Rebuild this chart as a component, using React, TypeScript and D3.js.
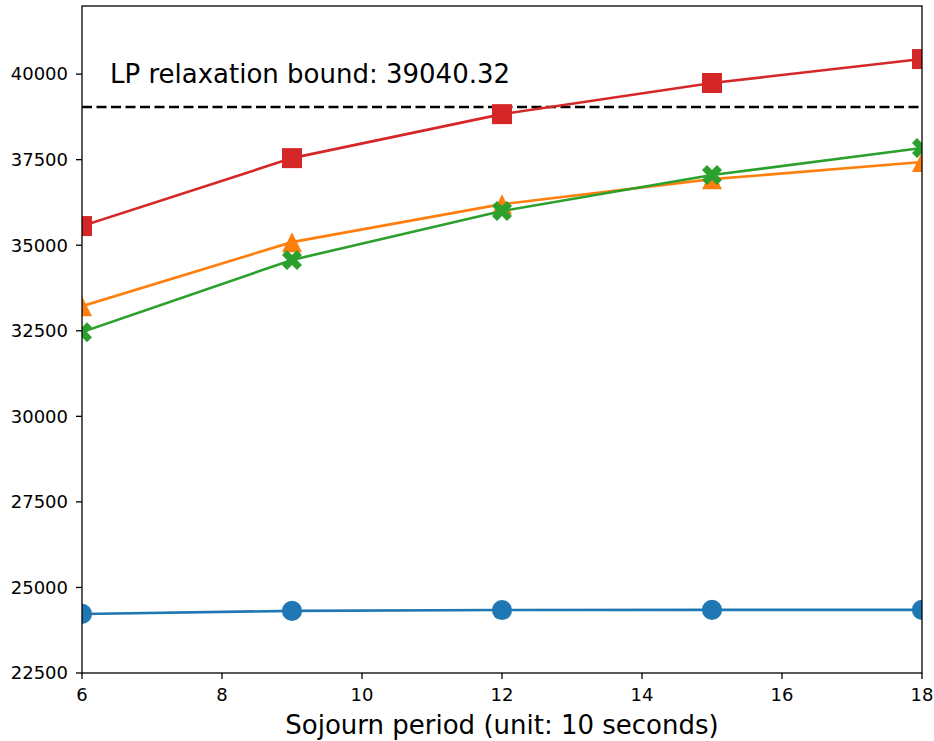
import React from "react";
import * as d3 from "d3";

// sojourn periods (unit: 10 seconds)
const periods = [6, 9, 12, 15, 18];
const circleSeries = [24225, 24315, 24340, 24345, 24345];
const triangleSeries = [33220, 35090, 36200, 36930, 37430];
const xSeries = [32460, 34570, 36000, 37050, 37840];
const squareSeries = [35560, 37545, 38830, 39740, 40440];
const lpBound = 39040.32;
const yTicks = [22500, 25000, 27500, 30000, 32500, 35000, 37500, 40000];
const xTicks = [6, 8, 10, 12, 14, 16, 18];

const W = 934;
const H = 741;
const margin = { top: 6, right: 12, bottom: 68, left: 82 };

// matplotlib-like "^" triangle: width == height
const mplTriangle = {
  draw(ctx: any, size: number) {
    const s = Math.sqrt(size) / 2;
    ctx.moveTo(0, -s);
    ctx.lineTo(s, s);
    ctx.lineTo(-s, s);
    ctx.closePath();
  },
};

const series = [
  { values: circleSeries, color: "#1f77b4", shape: d3.symbolCircle, size: 320, rotate: 0 },
  { values: triangleSeries, color: "#ff7f0e", shape: mplTriangle, size: 400, rotate: 0 },
  { values: xSeries, color: "#2ca02c", shape: d3.symbolCross, size: 250, rotate: 45 },
  { values: squareSeries, color: "#d62728", shape: d3.symbolSquare, size: 400, rotate: 0 },
];

export default function App() {
  const iw = W - margin.left - margin.right;
  const ih = H - margin.top - margin.bottom;
  const x = d3.scaleLinear().domain([6, 18]).range([0, iw]);
  const y = d3.scaleLinear().domain([22500, 41990]).range([ih, 0]);
  const line = d3
    .line<number>()
    .x((_, i) => x(periods[i]))
    .y((d) => y(d));
  const font = "'DejaVu Sans', sans-serif";

  return (
    <svg
      width={W}
      height={H}
      style={{ position: "absolute", left: 0, top: 0, background: "#fff" }}
      fontFamily={font}
    >
      <defs>
        <clipPath id="plotClip">
          <rect x={0} y={0} width={iw} height={ih} />
        </clipPath>
      </defs>
      <g transform={`translate(${margin.left},${margin.top})`}>
        <g clipPath="url(#plotClip)">
          <line
            x1={0}
            x2={iw}
            y1={y(lpBound)}
            y2={y(lpBound)}
            stroke="#000"
            strokeWidth={2.5}
            strokeDasharray="10,4.5"
          />
          {series.map((s, k) => (
            <g key={k}>
              <path d={line(s.values) || ""} fill="none" stroke={s.color} strokeWidth={2.6} />
              {s.values.map((v, i) => (
                <path
                  key={i}
                  d={d3.symbol().type(s.shape as any).size(s.size)() || ""}
                  transform={`translate(${x(periods[i])},${y(v)}) rotate(${s.rotate})`}
                  fill={s.color}
                />
              ))}
            </g>
          ))}
        </g>
        <text x={28} y={77} fontSize={26} fill="#000">
          LP relaxation bound: {lpBound.toFixed(2)}
        </text>
        <rect x={0} y={0} width={iw} height={ih} fill="none" stroke="#000" strokeWidth={1.3} />
        {yTicks.map((t) => (
          <g key={t} transform={`translate(0,${y(t)})`}>
            <line x1={-6} x2={0} stroke="#000" strokeWidth={1.3} />
            <text x={-14} dy="0.35em" textAnchor="end" fontSize={18}>
              {t}
            </text>
          </g>
        ))}
        {xTicks.map((t) => (
          <g key={t} transform={`translate(${x(t)},${ih})`}>
            <line y2={6} stroke="#000" strokeWidth={1.3} />
            <text y={28} textAnchor="middle" fontSize={18}>
              {t}
            </text>
          </g>
        ))}
        <text x={iw / 2} y={ih + 61} textAnchor="middle" fontSize={26}>
          Sojourn period (unit: 10 seconds)
        </text>
      </g>
    </svg>
  );
}
